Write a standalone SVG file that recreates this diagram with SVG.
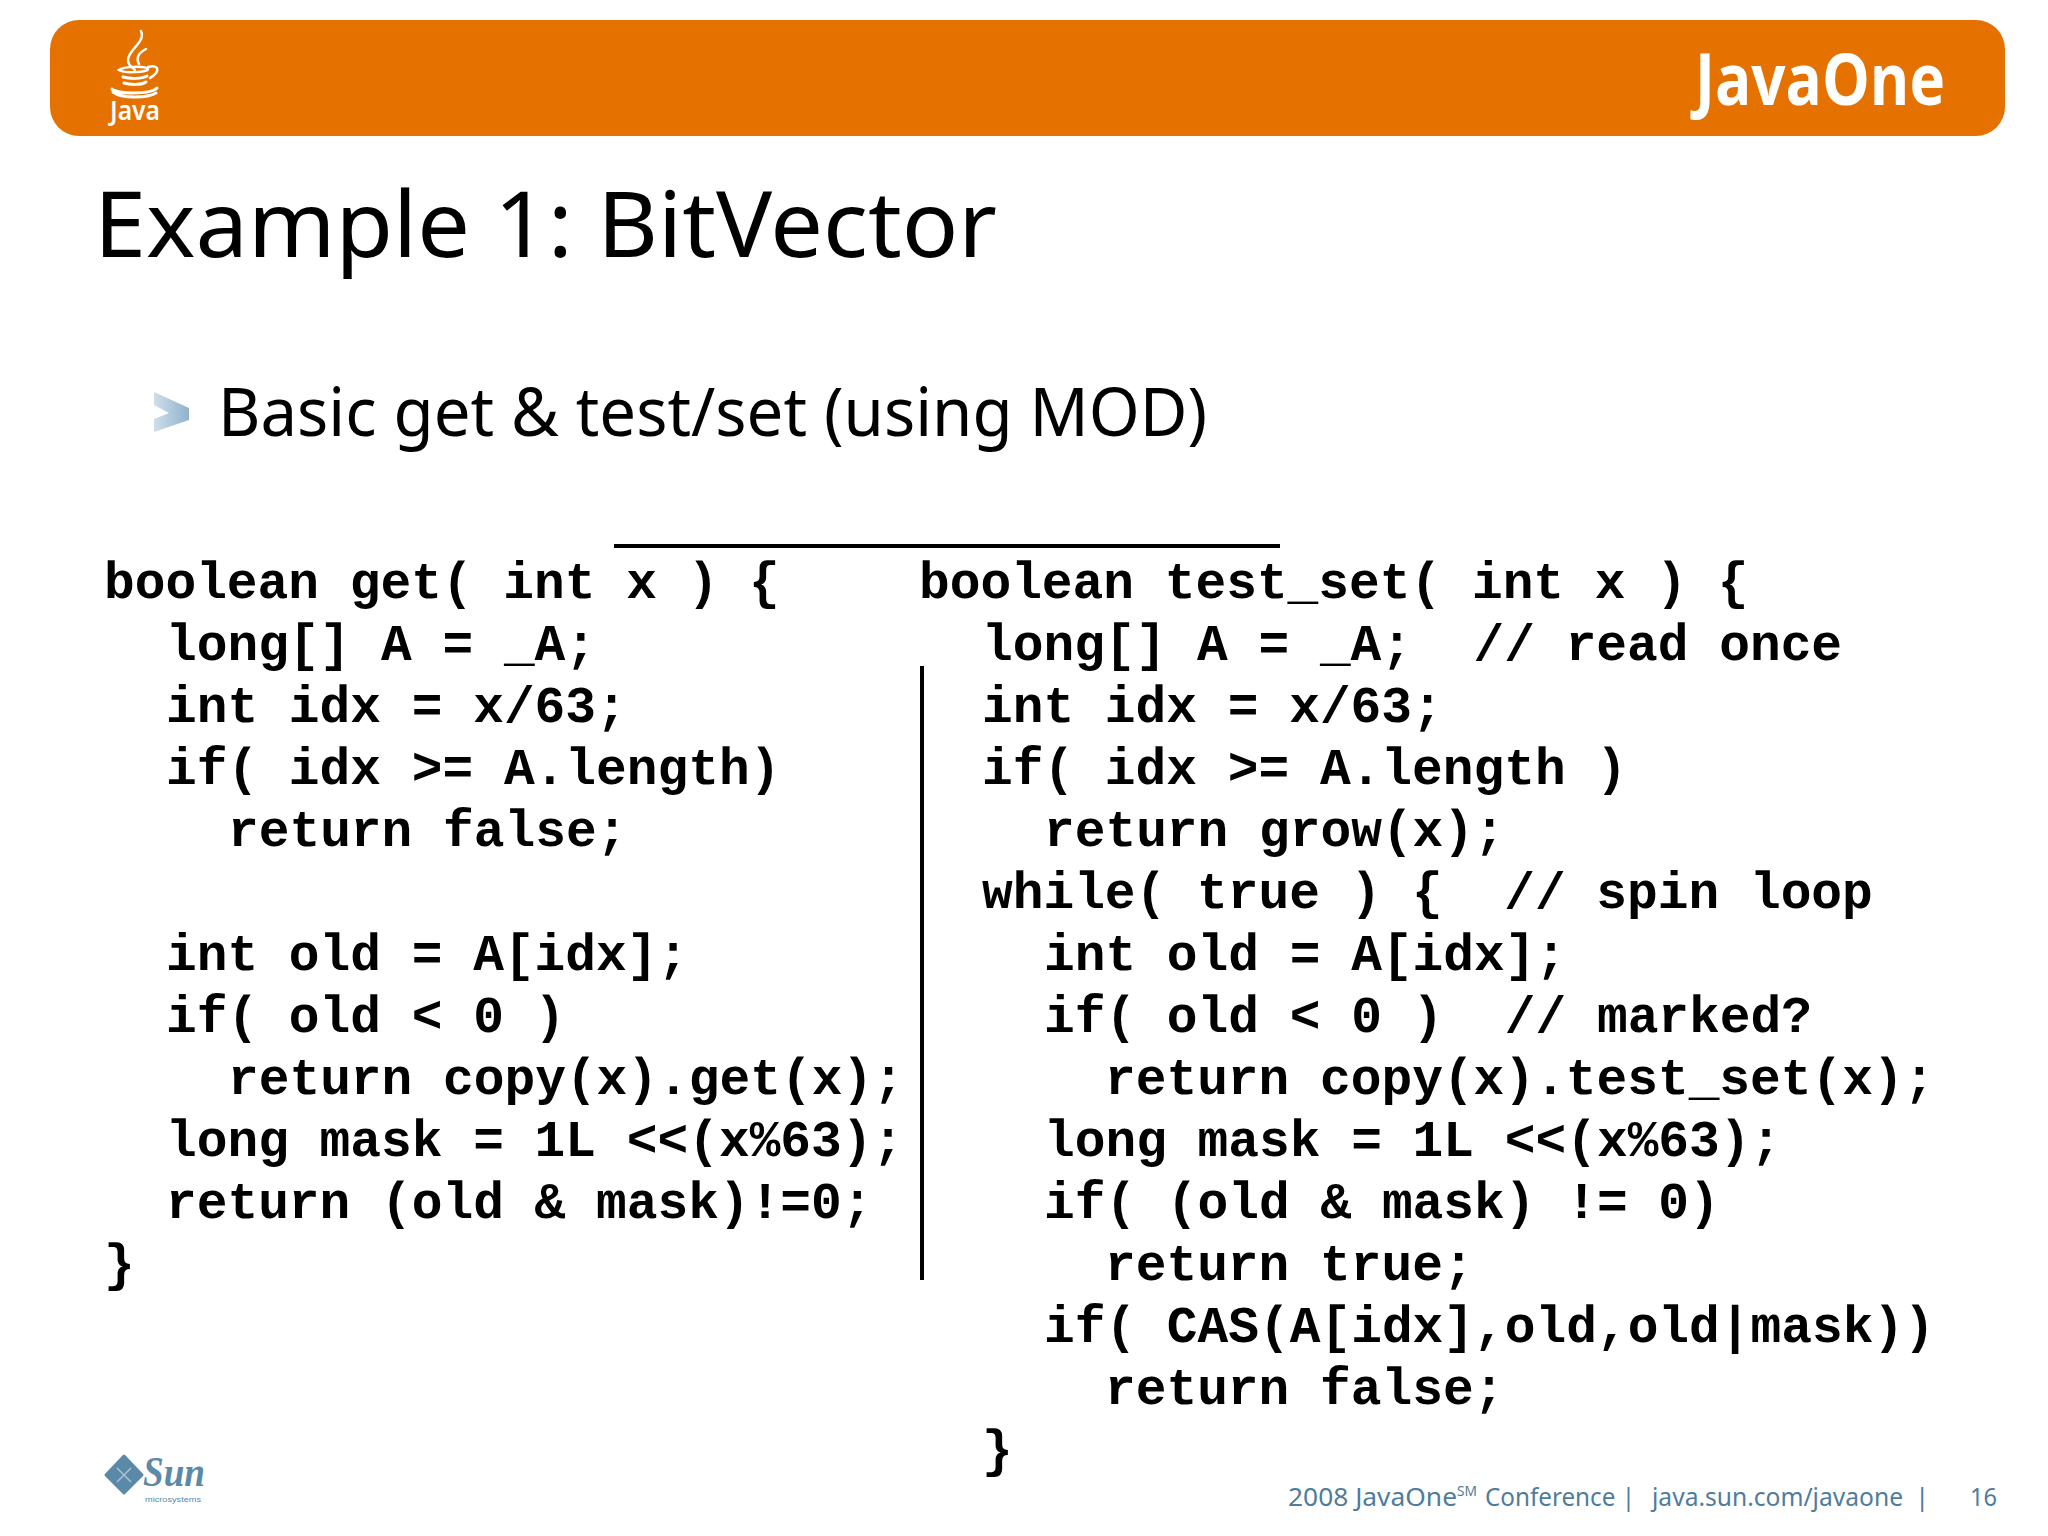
<svg xmlns="http://www.w3.org/2000/svg" width="2048" height="1536" viewBox="0 0 2048 1536">
<defs>
<linearGradient id="chev" x1="0" y1="0" x2="1" y2="0"><stop offset="0" stop-color="#cfdeea"/><stop offset="1" stop-color="#8fb2cc"/></linearGradient>
</defs>
<style>
.code{font-family:"Liberation Mono",monospace;font-weight:700;font-size:51.2px;fill:#000}
.head{font-family:"Noto Sans","Open Sans",sans-serif;fill:#000}
.foot{font-family:"Noto Sans","Open Sans",sans-serif;font-size:26px;fill:#4f7c9c}
.steam{fill:none;stroke:#fff;stroke-linecap:round}
</style>
<rect width="2048" height="1536" fill="#fff"/>
<g id="banner">
<rect x="50" y="20" width="1955" height="116" rx="29" fill="#e57200"/>
<g id="java-logo">
<path class="steam" stroke-width="2.5" d="M141 31C146 42 128 50 128 60C128 66 133 68 135 70M146 49C138 53 136 58 139 64"/>
<path class="steam" stroke-width="2.5" d="M119 70C124 66 146 66 148 69C149 72 125 74 119 70ZM148 67C160 64 160 72 150 78"/>
<path class="steam" stroke-width="3" d="M123 77C130 79 142 79 147 76M124 83C130 85 142 85 146 82M112 89C116 94 150 95 157 88M113 92C122 99 148 98 156 93"/>
<text x="110" y="120" font-family="'Noto Sans',sans-serif" font-weight="600" font-size="27" fill="#fff" textLength="50" lengthAdjust="spacingAndGlyphs">Java</text>
</g>
<g id="javaone-logo">
<text x="1695" y="105" font-family="'Open Sans','Noto Sans',sans-serif" font-weight="700" font-size="72" fill="#fff" textLength="250" lengthAdjust="spacingAndGlyphs">JavaOne</text>
</g>
</g>
<g id="title"><text class="head" x="94" y="257" font-size="92" textLength="903" lengthAdjust="spacingAndGlyphs">Example 1: BitVector</text></g>
<g id="bullet">
<path d="M154 392L189 408V420L154 432V419L169 413L154 405Z" fill="url(#chev)"/>
<text class="head" x="218" y="436" font-size="67" textLength="989" lengthAdjust="spacingAndGlyphs">Basic get &amp; test/set (using MOD)</text>
</g>
<g id="connectors" stroke="#000" stroke-width="4">
<line x1="614" y1="546" x2="1280" y2="546"/>
<line x1="922" y1="666" x2="922" y2="1280"/>
</g>
<g id="code-get" class="code">
<text x="104" y="598">boolean get( int x ) {</text>
<text x="166" y="660">long[] A = _A;</text>
<text x="166" y="722">int idx = x/63;</text>
<text x="166" y="784">if( idx &gt;= A.length)</text>
<text x="228" y="846">return false;</text>
<text x="166" y="970">int old = A[idx];</text>
<text x="166" y="1032">if( old &lt; 0 )</text>
<text x="228" y="1094">return copy(x).get(x);</text>
<text x="166" y="1156">long mask = 1L &lt;&lt;(x%63);</text>
<text x="166" y="1218">return (old &amp; mask)!=0;</text>
<text x="104" y="1280">}</text>
</g>
<g id="code-test-set" class="code">
<text x="919" y="598">boolean test_set( int x ) {</text>
<text x="982" y="660">long[] A = _A;&#160;&#160;// read once</text>
<text x="982" y="722">int idx = x/63;</text>
<text x="982" y="784">if( idx &gt;= A.length )</text>
<text x="1044" y="846">return grow(x);</text>
<text x="982" y="908">while( true ) {&#160;&#160;// spin loop</text>
<text x="1044" y="970">int old = A[idx];</text>
<text x="1044" y="1032">if( old &lt; 0 )&#160;&#160;// marked?</text>
<text x="1105" y="1094">return copy(x).test_set(x);</text>
<text x="1044" y="1156">long mask = 1L &lt;&lt;(x%63);</text>
<text x="1044" y="1218">if( (old &amp; mask) != 0)</text>
<text x="1105" y="1280">return true;</text>
<text x="1044" y="1342">if( CAS(A[idx],old,old|mask))</text>
<text x="1105" y="1404">return false;</text>
<text x="982" y="1466">}</text>
</g>
<g id="sun-logo">
<path d="M124 1456L142 1475L124 1493L106 1475Z" fill="#5b89a8" stroke="#5b89a8" stroke-width="3" stroke-linejoin="round"/>
<path d="M117 1468L131 1482M131 1468L117 1482" stroke="#a9c3d5" stroke-width="1.5"/>
<text x="143" y="1486" font-family="'Liberation Serif',serif" font-style="italic" font-weight="700" font-size="42" fill="#5b89a8" textLength="62" lengthAdjust="spacingAndGlyphs">Sun</text>
<text x="145" y="1502" font-family="'Liberation Sans',sans-serif" font-size="7" fill="#5b89a8" textLength="56" lengthAdjust="spacingAndGlyphs">microsystems</text>
</g>
<g id="footer">
<text class="foot" x="1288" y="1506" textLength="169" lengthAdjust="spacingAndGlyphs">2008 JavaOne</text>
<text class="foot" x="1457" y="1496" style="font-size:14px" textLength="20" lengthAdjust="spacingAndGlyphs">SM</text>
<text class="foot" x="1485" y="1506" textLength="150" lengthAdjust="spacingAndGlyphs">Conference |</text>
<text class="foot" x="1652" y="1506" textLength="251" lengthAdjust="spacingAndGlyphs">java.sun.com/javaone</text>
<text class="foot" x="1915" y="1506">|</text>
<text class="foot" x="1970" y="1506" textLength="27" lengthAdjust="spacingAndGlyphs">16</text>
</g>
</svg>
